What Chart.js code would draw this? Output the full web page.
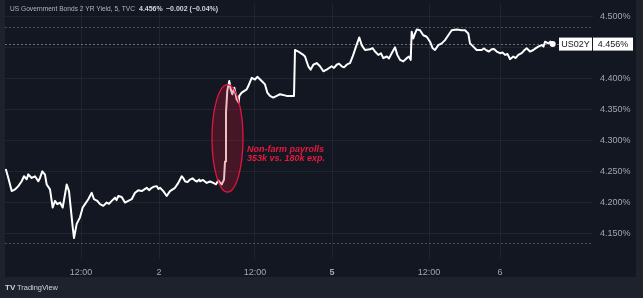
<!DOCTYPE html>
<html>
<head>
<meta charset="utf-8">
<script src="https://cdn.jsdelivr.net/npm/chart.js@4/dist/chart.umd.min.js"></script>
<style>
  html, body { margin: 0; padding: 0; background: #1e222d; }
  #wrap { width: 643px; height: 298px; position: relative; }
  canvas { display: block; }
</style>
</head>
<body>
<div id="wrap"><canvas id="c" width="643" height="298"></canvas></div>
<script>
// 5-minute bars, US 2-year Treasury yield (%)
const barIndex = [
  1, 3.3, 6.7, 10, 13.3, 16.7, 19, 21.7, 23.3, 26.7, 30, 33.3, 35, 37.3, 40, 41.7, 45, 47.7, 50, 52.3,
  55, 57.7, 60, 61.7, 64, 65.7, 67.7, 69, 71.7, 75, 77.7, 80, 83.3, 86.7, 89, 92.3, 95, 98.3, 101.7, 104,
  106.7, 108.5, 110, 111.5, 113.3, 116.7, 120, 123.3, 126.7, 130, 133.3, 136.7, 141.7, 144, 146.7, 149, 151.7, 153.5, 155, 158.3,
  161.7, 165, 170, 173.3, 176.7, 178.5, 180, 182.5, 185, 187.5, 190, 192, 194.3,
  195, 198, 201.7, 205, 208.3, 211, 213.3, 216.7, 219, 220, 221, 222.3, 224.3, 225.7, 227.3, 229.3, 231.7, 233.7, 234.3, 236.7,
  241.7, 243.3, 246.7, 250, 252.3, 256.7, 260, 262.3, 265, 268.3, 271.7, 275, 281.7, 286.7, 289,
  290, 293.3, 298.3, 300, 303.3, 305.7, 308.3, 311.7, 315, 318.3, 321.7, 326.7, 329, 331.7, 334, 336.7, 339, 341.7, 343, 345,
  347.7, 351, 354.3, 356.7, 360, 365, 367.5, 370, 373.3, 376, 378.3, 381.7, 384, 386.7, 390, 392.3, 395, 398.3, 401.7, 404,
  405.7, 406.7, 408.3, 410, 411.7, 415, 418.3, 421.7, 425, 427.7, 430, 433.3, 436.7, 440, 443.3, 446.7, 451.7, 456.7, 460, 463.3,
  465, 468.3, 471.7, 476.7, 479, 481.7, 484, 486.7, 489, 491.7, 495, 497.5, 500, 502.5, 505, 508.3, 510.5, 513.3, 516.7, 519,
  521.7, 525, 528.3, 530.5, 533.3, 536.7, 538.5, 540, 543.3, 545.5, 547.7
];
const yieldPct = [
  4.2535, 4.2402, 4.2190, 4.2217, 4.2270, 4.2349, 4.2429, 4.2381, 4.2460, 4.2402, 4.2429, 4.2349, 4.2402, 4.2508, 4.2456, 4.2297, 4.2217, 4.1925, 4.2032, 4.1979,
  4.2005, 4.1925, 4.2138, 4.2297, 4.2190, 4.1925, 4.1608, 4.1433, 4.1662, 4.1767, 4.1925, 4.1979, 4.2059, 4.2163, 4.2059, 4.2032, 4.1979, 4.1952, 4.2005, 4.1985,
  4.2032, 4.2060, 4.2084, 4.2045, 4.2111, 4.2095, 4.2005, 4.2032, 4.2059, 4.2163, 4.2202, 4.2190, 4.2243, 4.2205, 4.2243, 4.2262, 4.2270, 4.2225, 4.2243, 4.2190,
  4.2111, 4.2190, 4.2243, 4.2322, 4.2429, 4.2395, 4.2349, 4.2335, 4.2376, 4.2395, 4.2360, 4.2345, 4.2376,
  4.2349, 4.2370, 4.2322, 4.2345, 4.2322, 4.2300, 4.2360, 4.2297, 4.2376, 4.2667, 4.3460, 4.3810, 4.3964, 4.3830, 4.3751, 4.3857, 4.3671, 4.3619, 4.3725, 4.3778,
  4.3830, 4.3884, 4.4016, 4.3989, 4.4032, 4.3964, 4.3910, 4.3778, 4.3725, 4.3698, 4.3725, 4.3751, 4.3725, 4.3725, 4.3725,
  4.4465, 4.4440, 4.4386, 4.4360, 4.4202, 4.4148, 4.4227, 4.4254, 4.4202, 4.4122, 4.4148, 4.4202, 4.4175, 4.4227, 4.4245, 4.4202, 4.4185, 4.4227, 4.4240, 4.4254,
  4.4360, 4.4519, 4.4667, 4.4544, 4.4465, 4.4476, 4.4495, 4.4440, 4.4386, 4.4410, 4.4333, 4.4360, 4.4330, 4.4413, 4.4508, 4.4386, 4.4306, 4.4281, 4.4333, 4.4360,
  4.4306, 4.4757, 4.4651, 4.4730, 4.4794, 4.4783, 4.4703, 4.4678, 4.4598, 4.4492, 4.4465, 4.4544, 4.4571, 4.4624, 4.4703, 4.4783, 4.4794, 4.4783, 4.4783, 4.4730,
  4.4571, 4.4519, 4.4465, 4.4465, 4.4490, 4.4456, 4.4440, 4.4476, 4.4480, 4.4440, 4.4413, 4.4425, 4.4386, 4.4400, 4.4317, 4.4360, 4.4335, 4.4386, 4.4413, 4.4455,
  4.4492, 4.4440, 4.4465, 4.4490, 4.4519, 4.4544, 4.4520, 4.4598, 4.4571, 4.4600, 4.456
];

// time axis labels and where they fall (bar positions)
const xTickBars = [76, 154, 250, 327, 424, 495];
const xTickLabels = ['12:00', '2', '12:00', '5', '12:00', '6'];
const yTickValues = [4.15, 4.20, 4.25, 4.30, 4.35, 4.40, 4.45, 4.50];

// header and markers
const symbolTitle = 'US Government Bonds 2 YR Yield, 5, TVC';
const symbolCode = 'US02Y';
const changeText = '\u22120.002 (\u22120.04%)';
const sessionHigh = 4.4841;
const sessionLow = 4.1349;

// payrolls release callout: bar at the centre, yield span covered
const eventBar = 222.5;
const eventHalfWidthBars = 15.5;
const eventTop = 4.3905;
const eventBottom = 4.2175;
const eventLines = ['Non-farm payrolls', '353k vs. 180k exp.'];

const FONT = '"Liberation Sans", Arial, sans-serif';
const lastIdx = yieldPct.length - 1;
const lastValue = yieldPct[lastIdx];

const points = barIndex.map((b, i) => ({ x: b, y: yieldPct[i] }));

const backdrop = {
  id: 'backdrop',
  beforeDraw(chart) {
    const ctx = chart.ctx;
    ctx.save();
    ctx.fillStyle = '#1e222d';
    ctx.fillRect(0, 0, chart.width, chart.height);
    ctx.fillStyle = '#131722';
    ctx.fillRect(5, 0, 631, 277);
    ctx.restore();
  },
  beforeDatasetsDraw(chart) {
    const { ctx, chartArea: a, scales: { y } } = chart;
    ctx.save();
    ctx.lineWidth = 1;
    ctx.setLineDash([2, 2]);
    const level = (v, col) => {
      const py = Math.round(y.getPixelForValue(v)) + 0.5;
      ctx.strokeStyle = col;
      ctx.beginPath();
      ctx.moveTo(a.left, py);
      ctx.lineTo(a.right, py);
      ctx.stroke();
    };
    level(sessionHigh, '#4c505b');
    level(sessionLow, '#4c505b');
    level(lastValue, '#6a6e79');
    ctx.restore();
  },
  afterDatasetsDraw(chart) {
    const { ctx, scales: { x, y } } = chart;
    const cx = x.getPixelForValue(eventBar);
    const rx = x.getPixelForValue(eventBar + eventHalfWidthBars) - cx;
    const top = y.getPixelForValue(eventTop);
    const bot = y.getPixelForValue(eventBottom);
    const cy = (top + bot) / 2, ry = (bot - top) / 2;
    ctx.save();
    ctx.beginPath();
    ctx.ellipse(cx, cy, rx, ry, 0, 0, Math.PI * 2);
    ctx.fillStyle = 'rgba(200, 20, 50, 0.28)';
    ctx.fill();
    ctx.lineWidth = 1.3;
    ctx.strokeStyle = '#e0163e';
    ctx.stroke();
    ctx.fillStyle = '#e8193f';
    ctx.font = 'italic bold 9px ' + FONT;
    ctx.textAlign = 'left';
    ctx.textBaseline = 'middle';
    ctx.fillText(eventLines[0], cx + rx + 4, cy + 11);
    ctx.fillText(eventLines[1], cx + rx + 4, cy + 20);
    ctx.restore();
  },
  afterDraw(chart) {
    const { ctx, scales: { y } } = chart;
    ctx.save();
    // last value tags
    const py = y.getPixelForValue(lastValue);
    ctx.fillStyle = '#ffffff';
    ctx.fillRect(559, py - 6.5, 33, 13);
    ctx.fillRect(593, py - 6.5, 40, 13);
    ctx.fillStyle = '#131722';
    ctx.font = '9px ' + FONT;
    ctx.textBaseline = 'middle';
    ctx.textAlign = 'center';
    ctx.fillText(symbolCode, 575.5, py + 0.5);
    ctx.fillText(lastValue.toFixed(3) + '%', 613, py + 0.5);

    // header
    ctx.textAlign = 'left';
    ctx.fillStyle = '#b2b5be';
    ctx.font = '7px ' + FONT;
    ctx.fillText(symbolTitle, 10, 9, 125);
    ctx.fillStyle = '#d1d4dc';
    ctx.font = 'bold 7px ' + FONT;
    ctx.fillText(lastValue.toFixed(3) + '%', 139, 9, 24);
    ctx.fillText(changeText, 166, 9, 53);

    // footer brand
    ctx.fillStyle = '#d1d4dc';
    ctx.font = 'bold 8px ' + FONT;
    ctx.fillText('TV', 5, 288, 11);
    ctx.font = '7.5px ' + FONT;
    ctx.fillText('TradingView', 17, 288, 41);
    ctx.restore();
  }
};

Chart.defaults.font.family = FONT;

new Chart(document.getElementById('c'), {
  type: 'line',
  data: {
    datasets: [{
      data: points,
      borderColor: '#ffffff',
      borderWidth: 2,
      borderJoinStyle: 'round',
      borderCapStyle: 'round',
      tension: 0,
      pointRadius: ctx => ctx.dataIndex === lastIdx ? 3 : 0,
      pointBackgroundColor: '#ffffff',
      pointBorderWidth: 0,
      fill: false
    }]
  },
  options: {
    responsive: false,
    devicePixelRatio: 1,
    animation: false,
    events: [],
    layout: { padding: { left: 5, top: 0, right: 7, bottom: 21 } },
    plugins: { legend: { display: false }, tooltip: { enabled: false } },
    scales: {
      x: {
        type: 'linear',
        min: 0,
        max: 588,
        afterBuildTicks: s => { s.ticks = xTickBars.map(v => ({ value: v })); },
        afterFit: s => { s.height = 18; s.paddingLeft = 0; s.paddingRight = 0; },
        grid: { color: 'rgba(255,255,255,0.06)', drawTicks: false },
        border: { display: false },
        ticks: {
          autoSkip: false,
          maxRotation: 0,
          padding: 8,
          color: '#a3a6af',
          font: ctx => ({ size: 9, weight: (ctx.tick && ctx.tick.label === '5') ? 'bold' : 'normal' }),
          callback: (v, i) => xTickLabels[i]
        }
      },
      y: {
        position: 'right',
        min: 4.10952,
        max: 4.52063,
        afterBuildTicks: s => { s.ticks = yTickValues.map(v => ({ value: v })); },
        afterFit: s => { s.width = 43; s.paddingTop = 0; s.paddingBottom = 0; },
        grid: { color: 'rgba(255,255,255,0.06)', drawTicks: false },
        border: { display: false },
        ticks: {
          padding: 7,
          color: '#a3a6af',
          font: { size: 9 },
          callback: v => v.toFixed(3) + '%'
        }
      }
    }
  },
  plugins: [backdrop]
});
</script>
</body>
</html>
